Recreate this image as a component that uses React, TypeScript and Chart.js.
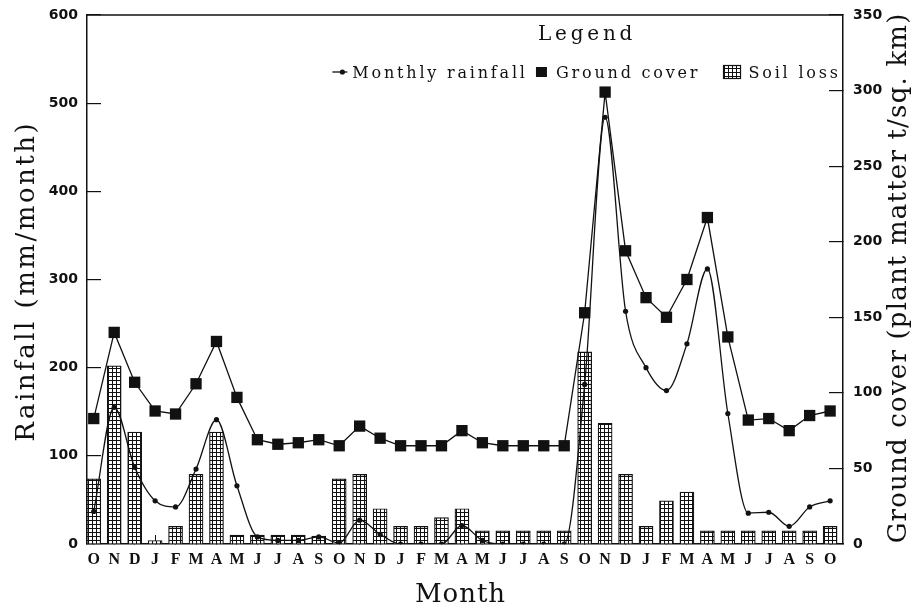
import React, { useEffect, useRef } from 'react';
import { Chart, registerables } from 'chart.js';

Chart.register(...registerables);

const months = [
  'O', 'N', 'D', 'J', 'F', 'M', 'A', 'M', 'J', 'J', 'A', 'S',
  'O', 'N', 'D', 'J', 'F', 'M', 'A', 'M', 'J', 'J', 'A', 'S',
  'O', 'N', 'D', 'J', 'F', 'M', 'A', 'M', 'J', 'J', 'A', 'S', 'O',
];

// Monthly rainfall (mm/month) — left axis
const rainfall = [
  37, 155, 87, 49, 42, 85, 141, 66, 8, 4, 4, 8,
  1, 27, 11, 0, 0, 0, 21, 4, 0, 0, 0, 0,
  181, 484, 264, 200, 174, 227, 312, 148, 35, 36, 20, 42, 49,
];

// Ground cover (plant matter t/sq. km) — right axis
const groundCover = [
  83, 140, 107, 88, 86, 106, 134, 97, 69, 66, 67, 69,
  65, 78, 70, 65, 65, 65, 75, 67, 65, 65, 65, 65,
  153, 299, 194, 163, 150, 175, 216, 137, 82, 83, 75, 85, 88,
];

// Soil loss — plotted against left axis
const soilLoss = [
  74, 202, 127, 4, 20, 79, 127, 10, 10, 10, 10, 9,
  74, 79, 40, 20, 20, 30, 40, 15, 15, 15, 15, 15,
  218, 137, 79, 20, 49, 59, 15, 15, 15, 15, 15, 15, 20,
];

const leftTitle = 'Rainfall (mm/month)';
const rightTitle = 'Ground cover (plant matter t/sq. km)';
const bottomTitle = 'Month';
const legendTitle = 'Legend';
const legendLabels = ['Monthly rainfall', 'Ground cover', 'Soil loss'];

const INK = '#111';
const SERIF = '"DejaVu Serif", "Liberation Serif", serif';

function makePattern(): CanvasPattern | string {
  const c = document.createElement('canvas');
  c.width = 4;
  c.height = 4;
  const g = c.getContext('2d');
  if (!g) return '#888';
  g.fillStyle = '#fff';
  g.fillRect(0, 0, 4, 4);
  g.fillStyle = INK;
  g.fillRect(0, 0, 4, 1);
  g.fillRect(0, 0, 1, 4);
  const p = g.createPattern(c, 'repeat');
  return p || '#888';
}

function drawSpaced(
  ctx: CanvasRenderingContext2D,
  text: string,
  x: number,
  y: number,
  font: string,
  sp: number,
  align: 'left' | 'center' | 'right'
): number {
  ctx.font = font;
  (ctx as any).letterSpacing = '0px';
  const base = ctx.measureText(text).width;
  const vis = base + sp * (text.length - 1);
  (ctx as any).letterSpacing = sp + 'px';
  ctx.textAlign = 'left';
  let sx = x;
  if (align === 'center') sx = x - vis / 2;
  else if (align === 'right') sx = x - vis;
  ctx.fillText(text, sx, y);
  (ctx as any).letterSpacing = '0px';
  return vis;
}

function measureSpaced(ctx: CanvasRenderingContext2D, text: string, font: string, sp: number): number {
  ctx.font = font;
  (ctx as any).letterSpacing = '0px';
  return ctx.measureText(text).width + sp * (text.length - 1);
}

export default function App() {
  const canvasRef = useRef<HTMLCanvasElement | null>(null);

  useEffect(() => {
    const canvas = canvasRef.current;
    if (!canvas) return;
    const pattern = makePattern();

    const decor = {
      id: 'decor',
      afterDraw(chart: any) {
        const ctx: CanvasRenderingContext2D = chart.ctx;
        const a = chart.chartArea;
        ctx.save();
        // top frame line
        ctx.strokeStyle = INK;
        ctx.lineWidth = 1.5;
        ctx.beginPath();
        ctx.moveTo(a.left, a.top);
        ctx.lineTo(a.right, a.top);
        ctx.stroke();

        ctx.fillStyle = INK;
        ctx.textBaseline = 'middle';
        const midY = (a.top + a.bottom) / 2;

        // left title
        ctx.save();
        ctx.translate(27, midY + 3);
        ctx.rotate(-Math.PI / 2);
        drawSpaced(ctx, leftTitle, 0, 0, `26px ${SERIF}`, 2.5, 'center');
        ctx.restore();

        // right title (reads bottom-to-top like the original)
        ctx.save();
        ctx.translate(899, midY - 1);
        ctx.rotate(-Math.PI / 2);
        drawSpaced(ctx, rightTitle, 0, 0, `26px ${SERIF}`, 1.2, 'center');
        ctx.restore();

        // bottom title
        ctx.textBaseline = 'alphabetic';
        drawSpaced(ctx, bottomTitle, (a.left + a.right) / 2 - 5, 602, `26px ${SERIF}`, 1, 'center');

        // legend
        const itemFont = `16px ${SERIF}`;
        const sp = 2.8;
        const w1 = measureSpaced(ctx, legendLabels[0], itemFont, sp);
        const w2 = measureSpaced(ctx, legendLabels[1], itemFont, sp);
        const w3 = measureSpaced(ctx, legendLabels[2], itemFont, sp);
        const total = 15 + 5 + w1 + 11 + 12 + 8 + w2 + 26 + 17 + 8 + w3;
        const R = a.right - 5;
        let x = R - total;
        const base = a.top + 63;
        const my = base - 6;

        drawSpaced(ctx, legendTitle, (x + R) / 2, a.top + 25, `20px ${SERIF}`, 3.8, 'center');

        // rainfall marker
        ctx.lineWidth = 1.3;
        ctx.beginPath();
        ctx.moveTo(x, my);
        ctx.lineTo(x + 15, my);
        ctx.stroke();
        ctx.beginPath();
        ctx.arc(x + 10, my, 2.6, 0, Math.PI * 2);
        ctx.fill();
        x += 15 + 5;
        drawSpaced(ctx, legendLabels[0], x, base, itemFont, sp, 'left');
        x += w1 + 11;
        // ground cover marker
        ctx.fillRect(x, my - 5, 11, 10);
        x += 12 + 8;
        drawSpaced(ctx, legendLabels[1], x, base, itemFont, sp, 'left');
        x += w2 + 26;
        // soil loss marker
        ctx.fillStyle = pattern as any;
        ctx.fillRect(x, my - 6.5, 17, 13);
        ctx.strokeStyle = INK;
        ctx.lineWidth = 1.2;
        ctx.strokeRect(x, my - 6.5, 17, 13);
        ctx.fillStyle = INK;
        x += 17 + 8;
        drawSpaced(ctx, legendLabels[2], x, base, itemFont, sp, 'left');

        ctx.restore();
      },
    };

    const tickFontNum = { family: '"DejaVu Sans", sans-serif', size: 14, weight: 'bold' as const };
    const tickFontMonth = { family: '"Liberation Serif", serif', size: 16, weight: 'bold' as const };

    const chart = new Chart(canvas, {
      type: 'bar',
      data: {
        datasets: [
          {
            type: 'line',
            label: legendLabels[0],
            data: rainfall.map((y, x) => ({ x, y })),
            yAxisID: 'y',
            borderColor: INK,
            borderWidth: 1.3,
            pointRadius: 2.6,
            pointStyle: 'circle',
            pointBackgroundColor: INK,
            pointBorderWidth: 0,
            cubicInterpolationMode: 'monotone',
            tension: 0.4,
            order: 0,
          } as any,
          {
            type: 'line',
            label: legendLabels[1],
            data: groundCover.map((y, x) => ({ x, y })),
            yAxisID: 'y1',
            borderColor: INK,
            borderWidth: 1.3,
            pointStyle: 'rect',
            pointRadius: 8,
            pointBackgroundColor: INK,
            pointBorderWidth: 0,
            tension: 0,
            order: 1,
          } as any,
          {
            type: 'bar',
            label: legendLabels[2],
            data: soilLoss.map((y, x) => ({ x, y })),
            yAxisID: 'y',
            backgroundColor: pattern as any,
            borderColor: INK,
            borderWidth: 1.2,
            barThickness: 14,
            order: 2,
          } as any,
        ],
      },
      options: {
        responsive: false,
        animation: false,
        events: [],
        layout: { padding: { top: 15, left: 0, right: 0, bottom: 0 } },
        plugins: {
          legend: { display: false },
          tooltip: { enabled: false },
        },
        scales: {
          x: {
            type: 'linear',
            min: -0.33,
            max: 36.63,
            offset: false,
            afterBuildTicks: (s: any) => {
              s.ticks = months.map((_, i) => ({ value: i }));
            },
            afterFit: (s: any) => {
              s.height = 63;
              s.paddingLeft = 0;
              s.paddingRight = 0;
            },
            ticks: {
              autoSkip: false,
              maxRotation: 0,
              padding: 15,
              color: INK,
              font: tickFontMonth,
              callback: (v: any) => months[Math.round(Number(v))] ?? '',
            },
            grid: { drawOnChartArea: false, offset: false, tickLength: -9, color: INK, lineWidth: 1 },
            border: { color: INK, width: 1.5 },
          } as any,
          y: {
            type: 'linear',
            position: 'left',
            min: 0,
            max: 600,
            afterFit: (s: any) => {
              s.width = 87;
              s.paddingTop = 0;
              s.paddingBottom = 0;
            },
            ticks: { stepSize: 100, padding: 23, color: INK, font: tickFontNum },
            grid: { drawOnChartArea: false, tickLength: -14, color: INK, lineWidth: 1.2 },
            border: { color: INK, width: 1.5 },
          } as any,
          y1: {
            type: 'linear',
            position: 'right',
            min: 0,
            max: 350,
            afterFit: (s: any) => {
              s.width = 77;
              s.paddingTop = 0;
              s.paddingBottom = 0;
            },
            ticks: { stepSize: 50, padding: 24, color: INK, font: tickFontNum },
            grid: { drawOnChartArea: false, tickLength: -14, color: INK, lineWidth: 1.2 },
            border: { color: INK, width: 1.5 },
          } as any,
        },
      },
      plugins: [decor],
    });

    return () => {
      chart.destroy();
    };
  }, []);

  return (
    <div style={{ position: 'absolute', left: 0, top: 0, width: 920, height: 607, background: '#fff' }}>
      <canvas ref={canvasRef} width={920} height={607} />
    </div>
  );
}
